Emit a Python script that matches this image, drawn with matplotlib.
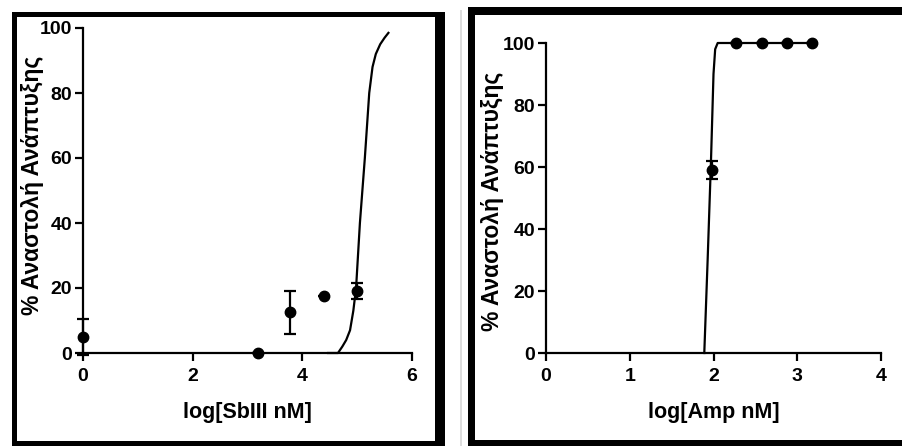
import matplotlib
matplotlib.use("Agg")
import matplotlib.pyplot as plt
from matplotlib.patches import Rectangle

plt.rcParams['font.family'] = ['Liberation Sans Narrow', 'Liberation Sans', 'DejaVu Sans']
plt.rcParams['font.weight'] = 'bold'

# left panel: SbIII
sb_x = [0.0, 3.2, 3.78, 4.4, 5.0]
sb_y = [5.0, 0.0, 12.5, 17.5, 19.0]
sb_err = [5.5, 0.0, 6.5, 0.0, 2.5]
sb_curve_x = [4.47, 4.65, 4.73, 4.80, 4.87, 4.93, 4.98, 5.05, 5.14, 5.22, 5.28, 5.34, 5.42, 5.50, 5.57]
sb_curve_y = [0.0, 0.0, 2.0, 4.0, 7.0, 13.0, 20.0, 40.0, 60.0, 80.0, 88.0, 92.0, 95.0, 97.0, 98.5]

# right panel: Amp
amp_x = [1.98, 2.27, 2.58, 2.88, 3.18]
amp_y = [59.0, 100.0, 100.0, 100.0, 100.0]
amp_err = [3.0, 0.0, 0.0, 0.0, 0.0]
amp_curve_x = [1.89, 1.93, 1.97, 2.00, 2.02, 2.05, 3.18]
amp_curve_y = [0.0, 30.0, 62.0, 90.0, 98.0, 100.0, 100.0]

ylabel = '% Αναστολή Ανάπτυξης'

W, H = 902, 446
fig = plt.figure(figsize=(W / 100, H / 100), dpi=100)


def px_rect(x0, y0, x1, y1, color='black'):
    # rectangle given in pixel coords (origin top-left)
    fig.add_artist(Rectangle((x0 / W, 1 - y1 / H), (x1 - x0) / W, (y1 - y0) / H,
                             transform=fig.transFigure, facecolor=color,
                             edgecolor='none', zorder=0))


# frames around the two panels
px_rect(12, 12, 445, 17)
px_rect(12, 12, 17, 446)
px_rect(435, 12, 445, 446)
px_rect(12, 441, 445, 446)

px_rect(460, 10, 462, 446, color='#dddddd')
px_rect(468, 7, 902, 15)
px_rect(468, 7, 475, 446)
px_rect(468, 440, 902, 446)


def style(ax, xmax, xticks):
    for s in ['top', 'right']:
        ax.spines[s].set_visible(False)
    for s in ['left', 'bottom']:
        ax.spines[s].set_linewidth(1.6)
    ax.set_xlim(0, xmax)
    ax.set_ylim(0, 100)
    ax.set_xticks(xticks)
    ax.set_yticks([0, 20, 40, 60, 80, 100])
    ax.tick_params(direction='out', length=6, width=1.6, labelsize=14)
    ax.tick_params(axis='x', pad=5)
    ax.tick_params(axis='y', pad=2)
    ax.set_ylabel(ylabel, fontsize=16.5, fontweight='bold')


def draw(ax, x, y, err, cx, cy):
    ax.plot(cx, cy, color='black', lw=1.6, clip_on=False)
    ax.errorbar(x, y, yerr=err, fmt='none', ecolor='black', elinewidth=1.6,
                capsize=4, capthick=1.6, clip_on=False)
    ax.plot(x, y, 'o', color='black', markersize=7.5, clip_on=False, zorder=5)


ax1 = fig.add_axes([83 / W, 1 - 353 / H, 329 / W, 325 / H])
style(ax1, 6, [0, 2, 4, 6])
draw(ax1, sb_x, sb_y, sb_err, sb_curve_x, sb_curve_y)
ax1.set_xlabel('log[SbIII nM]', fontsize=15.5, fontweight='bold')
ax1.yaxis.set_label_coords(-0.118, 0.515)
ax1.xaxis.set_label_coords(0.5, -0.15)

ax2 = fig.add_axes([546 / W, 1 - 353 / H, 335 / W, 310 / H])
style(ax2, 4, [0, 1, 2, 3, 4])
draw(ax2, amp_x, amp_y, amp_err, amp_curve_x, amp_curve_y)
ax2.set_xlabel('log[Amp nM]', fontsize=15.5, fontweight='bold')
ax2.yaxis.set_label_coords(-0.125, 0.49)
ax2.xaxis.set_label_coords(0.5, -0.158)

fig.savefig('out.png', dpi=100)
